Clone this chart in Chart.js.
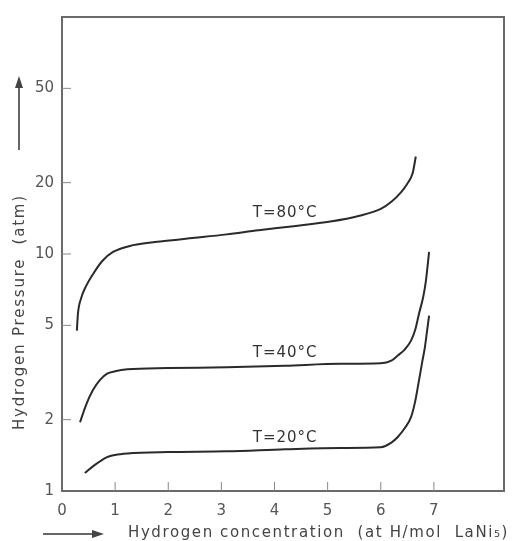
<!DOCTYPE html>
<html>
<head>
<meta charset="utf-8">
<script src="https://cdn.jsdelivr.net/npm/chart.js@4.4.1/dist/chart.umd.min.js"></script>
<style>
html, body { margin: 0; padding: 0; background: #fff; overflow: hidden; }
canvas { display: block; }
</style>
</head>
<body>
<canvas id="chart" width="512" height="541"></canvas>
<script>
// isotherms (x: at H / mol LaNi5, y: atm)
var x80 = [0.28, 0.3, 0.36, 0.45, 0.58, 0.75, 0.96, 1.34, 1.85, 2.5, 3.1, 3.7, 4.36, 5.05, 5.6, 6.0, 6.2, 6.38, 6.5, 6.6, 6.66];
var p80 = [4.75, 5.6, 6.5, 7.3, 8.2, 9.3, 10.2, 10.9, 11.3, 11.7, 12.1, 12.6, 13.1, 13.7, 14.5, 15.5, 16.6, 18.2, 19.8, 21.9, 25.8];

var x40 = [0.34, 0.45, 0.58, 0.72, 0.85, 1.0, 1.23, 2.0, 3.1, 4.2, 5.25, 6.0, 6.2, 6.32, 6.45, 6.57, 6.65, 6.72, 6.8, 6.85, 6.91];
var p40 = [1.95, 2.3, 2.66, 2.95, 3.13, 3.2, 3.26, 3.3, 3.33, 3.38, 3.44, 3.46, 3.55, 3.73, 3.95, 4.31, 4.8, 5.6, 6.6, 7.7, 10.2];

var x20 = [0.43, 0.6, 0.85, 1.0, 1.23, 2.0, 3.1, 4.2, 5.25, 6.0, 6.2, 6.32, 6.45, 6.57, 6.65, 6.72, 6.78, 6.83, 6.87, 6.91];
var p20 = [1.19, 1.28, 1.39, 1.42, 1.44, 1.46, 1.47, 1.5, 1.52, 1.53, 1.6, 1.69, 1.84, 2.05, 2.4, 2.93, 3.5, 4.03, 4.7, 5.5];

var curveLabels = ['T=80\u00b0C', 'T=40\u00b0C', 'T=20\u00b0C'];
var labelX = [4.2, 4.2, 4.2];
var labelY = [14.9, 3.8, 1.67];

var xTicks = [0, 1, 2, 3, 4, 5, 6, 7];
var yTicks = [1, 2, 5, 10, 20, 50];

var xTitle = 'Hydrogen concentration  (at H/mol  LaNi\u2085)';
var yTitle = 'Hydrogen Pressure  (atm)';

var ink = '#2a2a2a';
var fontFamily = '"DejaVu Sans", sans-serif';

function toPoints(xs, ys){
    var pts = [];
    for(var i=0; i<xs.length; i++){
        pts.push({x: xs[i], y: ys[i]});
    }
    return pts;
}

function curve(xs, ys){
    return {
        data: toPoints(xs, ys),
        showLine: true,
        borderColor: ink,
        borderWidth: 2,
        pointRadius: 0,
        cubicInterpolationMode: 'monotone',
        fill: false
    };
}

// frame, inner ticks, titles with arrows, curve labels
var decor = {
    id: 'decor',
    afterDatasetsDraw: function(chart){
        var ctx = chart.ctx;
        var a = chart.chartArea;
        var xs = chart.scales.x;
        var ys = chart.scales.y;

        ctx.save();
        ctx.strokeStyle = '#6a6a6a';
        ctx.lineWidth = 2;
        ctx.strokeRect(a.left, a.top, a.right - a.left, a.bottom - a.top);

        ctx.lineWidth = 1;
        ctx.strokeStyle = '#888';
        ctx.beginPath();
        for(var i=1; i<xTicks.length; i++){
            var px = xs.getPixelForValue(xTicks[i]);
            ctx.moveTo(px, a.bottom);
            ctx.lineTo(px, a.bottom - 9);
        }
        for(var j=1; j<yTicks.length; j++){
            var py = ys.getPixelForValue(yTicks[j]);
            ctx.moveTo(a.left, py);
            ctx.lineTo(a.left + 9, py);
        }
        ctx.stroke();

        ctx.fillStyle = '#333';
        ctx.font = '15px ' + fontFamily;
        ctx.letterSpacing = '1px';
        ctx.textAlign = 'center';
        ctx.textBaseline = 'middle';
        for(var k=0; k<curveLabels.length; k++){
            ctx.fillText(curveLabels[k], xs.getPixelForValue(labelX[k]), ys.getPixelForValue(labelY[k]));
        }

        // x title with arrow
        ctx.font = '15px ' + fontFamily;
        ctx.letterSpacing = '1.6px';
        ctx.fillStyle = '#444';
        ctx.textAlign = 'left';
        ctx.fillText(xTitle, 128, 533);
        ctx.strokeStyle = '#333';
        ctx.lineWidth = 1.5;
        ctx.beginPath();
        ctx.moveTo(43, 534);
        ctx.lineTo(96, 534);
        ctx.stroke();
        ctx.beginPath();
        ctx.moveTo(104, 534);
        ctx.lineTo(92, 530);
        ctx.lineTo(92, 538);
        ctx.closePath();
        ctx.fill();

        // y title with arrow
        ctx.save();
        ctx.translate(20, 430);
        ctx.rotate(-Math.PI / 2);
        ctx.letterSpacing = '1.8px';
        ctx.textAlign = 'left';
        ctx.fillText(yTitle, 0, 0);
        ctx.restore();
        ctx.beginPath();
        ctx.moveTo(19, 150);
        ctx.lineTo(19, 84);
        ctx.stroke();
        ctx.beginPath();
        ctx.moveTo(19, 76);
        ctx.lineTo(15, 88);
        ctx.lineTo(23, 88);
        ctx.closePath();
        ctx.fill();

        ctx.restore();
    }
};

new Chart(document.getElementById('chart'), {
    type: 'scatter',
    data: {
        datasets: [curve(x80, p80), curve(x40, p40), curve(x20, p20)]
    },
    options: {
        responsive: false,
        animation: false,
        layout: { padding: { left: 0, top: 15, right: 8, bottom: 0 } },
        plugins: {
            legend: { display: false },
            tooltip: { enabled: false }
        },
        scales: {
            x: {
                type: 'linear',
                min: 0,
                max: 8.32,
                grid: { display: false, drawTicks: false },
                border: { display: false },
                ticks: {
                    stepSize: 1,
                    padding: 11,
                    color: '#555',
                    font: { family: fontFamily, size: 15 },
                    maxRotation: 0,
                    callback: function(v){ return xTicks.indexOf(v) >= 0 ? String(v) : ''; }
                },
                afterFit: function(s){
                    s.height = 50;
                    s.paddingRight = 0;
                }
            },
            y: {
                type: 'logarithmic',
                min: 1,
                max: 100,
                grid: { display: false, drawTicks: false },
                border: { display: false },
                ticks: {
                    padding: 8,
                    color: '#555',
                    font: { family: fontFamily, size: 15 },
                    callback: function(v){ return yTicks.indexOf(v) >= 0 ? String(v) : ''; }
                },
                afterBuildTicks: function(s){
                    s.ticks = yTicks.map(function(v){ return {value: v}; });
                },
                afterFit: function(s){ s.width = 62; }
            }
        }
    },
    plugins: [decor]
});
</script>
</body>
</html>
